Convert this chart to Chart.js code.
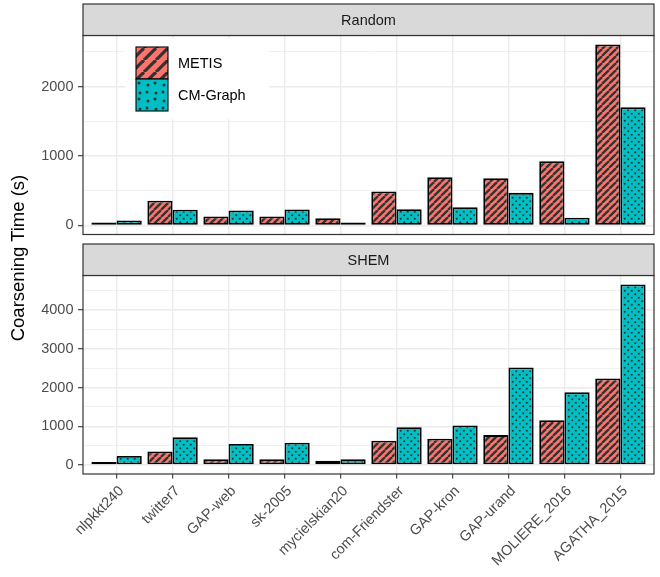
<!DOCTYPE html>
<html>
<head>
<meta charset="utf-8">
<script src="https://cdn.jsdelivr.net/npm/chart.js@4.4.1/dist/chart.umd.min.js"></script>
<style>
  html, body { margin: 0; padding: 0; background: #ffffff; }
  body { width: 660px; height: 577px; position: relative; overflow: hidden; }
  .wrap { position: absolute; left: 0; width: 660px; }
  #ytitle {
    position: absolute; left: -132px; top: 247px; width: 300px; height: 22px;
    line-height: 22px; text-align: center; transform: rotate(-90deg);
    font-family: "Liberation Sans", Arial, Helvetica, sans-serif; font-size: 18.5px; color: #000;
    white-space: nowrap;
  }
</style>
</head>
<body>
<div class="wrap" style="top:0;height:240px"><canvas id="topChart"></canvas></div>
<div class="wrap" style="top:240px;height:337px"><canvas id="botChart"></canvas></div>
<div id="ytitle">Coarsening Time (s)</div>
<script>
// ---------------- data ----------------
const categories = ['nlpkkt240', 'twitter7', 'GAP-web', 'sk-2005', 'mycielskian20',
  'com-Friendster', 'GAP-kron', 'GAP-urand', 'MOLIERE_2016', 'AGATHA_2015'];
const seriesNames = ['METIS', 'CM-Graph'];
const panelNames = ['Random', 'SHEM'];
const randomMetis = [40, 355, 130, 128, 105, 488, 694, 680, 923, 2604];
const randomCM = [72, 225, 215, 230, 12, 234, 263, 469, 110, 1700];
const shemMetis = [50, 348, 145, 145, 108, 625, 677, 771, 1156, 2236];
const shemCM = [232, 719, 540, 574, 146, 976, 1019, 2518, 1876, 4660];
const randomMajorTicks = [0, 1000, 2000];
const randomMinorTicks = [500, 1500, 2500];
const shemMajorTicks = [0, 1000, 2000, 3000, 4000];
const shemMinorTicks = [500, 1500, 2500, 3500, 4500];
const yTitle = 'Coarsening Time (s)';

// ---------------- style ----------------
const FONT = '"Liberation Sans", Arial, Helvetica, sans-serif';
Chart.defaults.font.family = FONT;
const METIS_FILL = '#F8766D';
const CM_FILL = '#00BFC4';
const INK = '#333333';

function stripePattern(P, lw) {
  const c = document.createElement('canvas');
  c.width = P; c.height = P;
  const g = c.getContext('2d');
  g.fillStyle = METIS_FILL; g.fillRect(0, 0, P, P);
  g.strokeStyle = INK; g.lineWidth = lw;
  for (const o of [-P, 0, P]) {
    g.beginPath(); g.moveTo(o, P); g.lineTo(o + P, 0); g.stroke();
  }
  return g.createPattern(c, 'repeat');
}
function dotPattern(W, H, pts, r) {
  const c = document.createElement('canvas');
  c.width = W; c.height = H;
  const g = c.getContext('2d');
  g.fillStyle = CM_FILL; g.fillRect(0, 0, W, H);
  g.fillStyle = INK;
  for (const [x, y] of pts) { g.beginPath(); g.arc(x, y, r, 0, Math.PI * 2); g.fill(); }
  return g.createPattern(c, 'repeat');
}
const metisPat = stripePattern(7, 2.3);
const cmPat = dotPattern(7, 7, [[1.75, 1.75], [5.25, 5.25]], 1.05);
const metisKeyPat = stripePattern(12, 3.2);
const cmKeyPat = dotPattern(16, 16, [[4, 5], [12, 13], [11, 3], [3, 12]], 1.5);

// ---------------- helpers ----------------
function toPoints(arr) { return arr.map((v, i) => ({ x: i + 1, y: v })); }

function makeDatasets(metis, cm) {
  const base = { borderColor: '#000', borderWidth: 1.8, borderSkipped: false, minBarLength: 3,
    barPercentage: 1.0, categoryPercentage: 0.9 };
  return [
    Object.assign({ label: seriesNames[0], data: toPoints(metis), backgroundColor: metisPat }, base),
    Object.assign({ label: seriesNames[1], data: toPoints(cm), backgroundColor: cmPat }, base)
  ];
}

function yScale(major, minor, dataMax) {
  const all = [...major, ...minor].sort((a, b) => a - b);
  return {
    type: 'linear', position: 'left',
    min: -0.05 * dataMax, max: 1.05 * dataMax,
    afterBuildTicks: s => { s.ticks = all.map(v => ({ value: v })); },
    afterFit: s => { s.width = 83; s.paddingTop = 0; s.paddingBottom = 0; },
    ticks: {
      autoSkip: false, padding: 4.5, color: '#4d4d4d', font: { size: 14.5, family: FONT },
      callback: v => major.includes(v) ? String(v) : ''
    },
    grid: {
      color: '#ebebeb',
      lineWidth: c => (c.tick && major.includes(c.tick.value)) ? 1.4 : 0.7,
      tickColor: c => (c.tick && major.includes(c.tick.value)) ? INK : 'rgba(0,0,0,0)',
      tickLength: 5, tickWidth: 1.1, drawTicks: true
    },
    border: { display: false }
  };
}

function xScale(showLabels) {
  return {
    type: 'linear', position: 'bottom', min: 0.4, max: categories.length + 0.6,
    offset: false,
    afterBuildTicks: s => { s.ticks = categories.map((c, i) => ({ value: i + 1 })); },
    afterFit: s => { s.height = showLabels ? 103 : 0; s.paddingLeft = 0; s.paddingRight = 0; },
    ticks: {
      display: showLabels, autoSkip: false, minRotation: 45, maxRotation: 45, padding: 4,
      labelOffset: 5,
      color: '#4d4d4d', font: { size: 14.5, family: FONT },
      callback: v => categories[Math.round(v) - 1]
    },
    grid: {
      offset: false,
      color: '#ebebeb', lineWidth: 1.4, drawTicks: showLabels,
      tickColor: INK, tickLength: 4.5, tickWidth: 1.1
    },
    border: { display: false }
  };
}

// strip + panel border plugin
function panelPlugin(title) {
  return {
    id: 'panel_' + title,
    afterDatasetsDraw(chart) {
      const { ctx, chartArea: a } = chart;
      ctx.save();
      ctx.strokeStyle = INK; ctx.lineWidth = 1.2;
      ctx.strokeRect(a.left, a.top, a.right - a.left, a.bottom - a.top);
      const sTop = 4, sH = a.top - sTop;
      ctx.fillStyle = '#d9d9d9';
      ctx.fillRect(a.left, sTop, a.right - a.left, sH);
      ctx.strokeRect(a.left, sTop, a.right - a.left, sH);
      ctx.fillStyle = '#1a1a1a';
      ctx.font = '14.5px ' + FONT;
      ctx.textAlign = 'center'; ctx.textBaseline = 'middle';
      ctx.fillText(title, (a.left + a.right) / 2, sTop + sH / 2 + 1);
      ctx.restore();
    }
  };
}

const legendPlugin = {
  id: 'insideLegend',
  afterDatasetsDraw(chart) {
    const { ctx } = chart;
    ctx.save();
    ctx.fillStyle = '#ffffff';
    ctx.fillRect(125, 38, 144, 81);
    const keys = [[metisKeyPat, seriesNames[0]], [cmKeyPat, seriesNames[1]]];
    keys.forEach(([pat, name], i) => {
      const y = 47 + i * 32;
      ctx.fillStyle = pat;
      ctx.fillRect(136, y, 32, 32);
      ctx.strokeStyle = '#000'; ctx.lineWidth = 1.1;
      ctx.strokeRect(136, y, 32, 32);
      ctx.fillStyle = '#000';
      ctx.font = '14.5px ' + FONT;
      ctx.textAlign = 'left'; ctx.textBaseline = 'middle';
      ctx.fillText(name, 178, y + 16.5);
    });
    ctx.restore();
  }
};

function makeChart(id, title, metis, cm, major, minor, showX, extraPlugins, padBottom) {
  const dataMax = Math.max(...metis, ...cm);
  return new Chart(document.getElementById(id), {
    type: 'bar',
    data: { datasets: makeDatasets(metis, cm) },
    options: {
      responsive: true, maintainAspectRatio: false, animation: false,
      layout: { padding: { top: 35.5, right: 6, left: 0, bottom: padBottom } },
      plugins: { legend: { display: false }, tooltip: { enabled: false } },
      scales: { x: xScale(showX), y: yScale(major, minor, dataMax) }
    },
    plugins: [panelPlugin(title), ...extraPlugins]
  });
}

makeChart('topChart', panelNames[0], randomMetis, randomCM, randomMajorTicks, randomMinorTicks, false, [legendPlugin], 5.5);
makeChart('botChart', panelNames[1], shemMetis, shemCM, shemMajorTicks, shemMinorTicks, true, [], 0);
document.getElementById('ytitle').textContent = yTitle;
</script>
</body>
</html>
